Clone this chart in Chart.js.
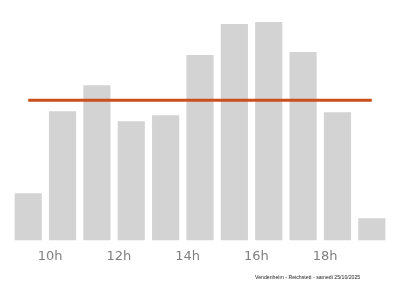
<!DOCTYPE html>
<html><head><meta charset="utf-8">
<script src="https://cdn.jsdelivr.net/npm/chart.js@4/dist/chart.umd.min.js"></script>
<style>html,body{margin:0;padding:0;background:#fff}#wrap{width:400px;height:286px}</style>
</head><body><div id="wrap"><canvas id="c" width="400" height="286"></canvas></div>
<script>
const hours = ["9h","10h","11h","12h","13h","14h","15h","16h","17h","18h","19h"];
const affluence = [47, 129, 155, 119, 125, 185, 216, 218, 188, 128, 22];
const moyenne = [140, 140, 140, 140, 140, 140, 140, 140, 140, 140, 140];
const footer = "Vendenheim - Reichstett - samedi 25/10/2025";

const footerPlugin = {
  id: 'footerText',
  afterDraw(chart) {
    const ctx = chart.ctx;
    ctx.save();
    ctx.font = '5.2px "Liberation Sans", Arial, sans-serif';
    ctx.fillStyle = '#222';
    ctx.textAlign = 'left';
    ctx.textBaseline = 'middle';
    ctx.fillText(footer, 255, 278);
    ctx.restore();
  }
};

new Chart(document.getElementById('c'), {
  type: 'bar',
  data: {
    labels: hours,
    datasets: [
      { type: 'line', data: moyenne, borderColor: '#c9501c', borderWidth: 3, pointRadius: 0, fill: false, order: 0 },
      { type: 'bar', data: affluence, backgroundColor: '#d3d3d3', borderWidth: 0, barPercentage: 0.79, categoryPercentage: 1, order: 1 }
    ]
  },
  options: {
    responsive: false,
    animation: false,
    layout: { padding: { left: 11, right: 11, top: 0, bottom: 22 } },
    plugins: { legend: { display: false }, tooltip: { enabled: false } },
    scales: {
      x: {
        grid: { display: false },
        border: { display: false },
        ticks: {
          color: '#808080',
          font: { family: '"DejaVu Sans", sans-serif', size: 13 },
          padding: 0,
          align: 'end',
          maxRotation: 0,
          autoSkip: false,
          callback: function(v, i) { return i % 2 === 1 ? hours[i] : ''; }
        }
      },
      y: { display: false, min: 0, max: 240 }
    }
  },
  plugins: [footerPlugin]
});
</script></body></html>
